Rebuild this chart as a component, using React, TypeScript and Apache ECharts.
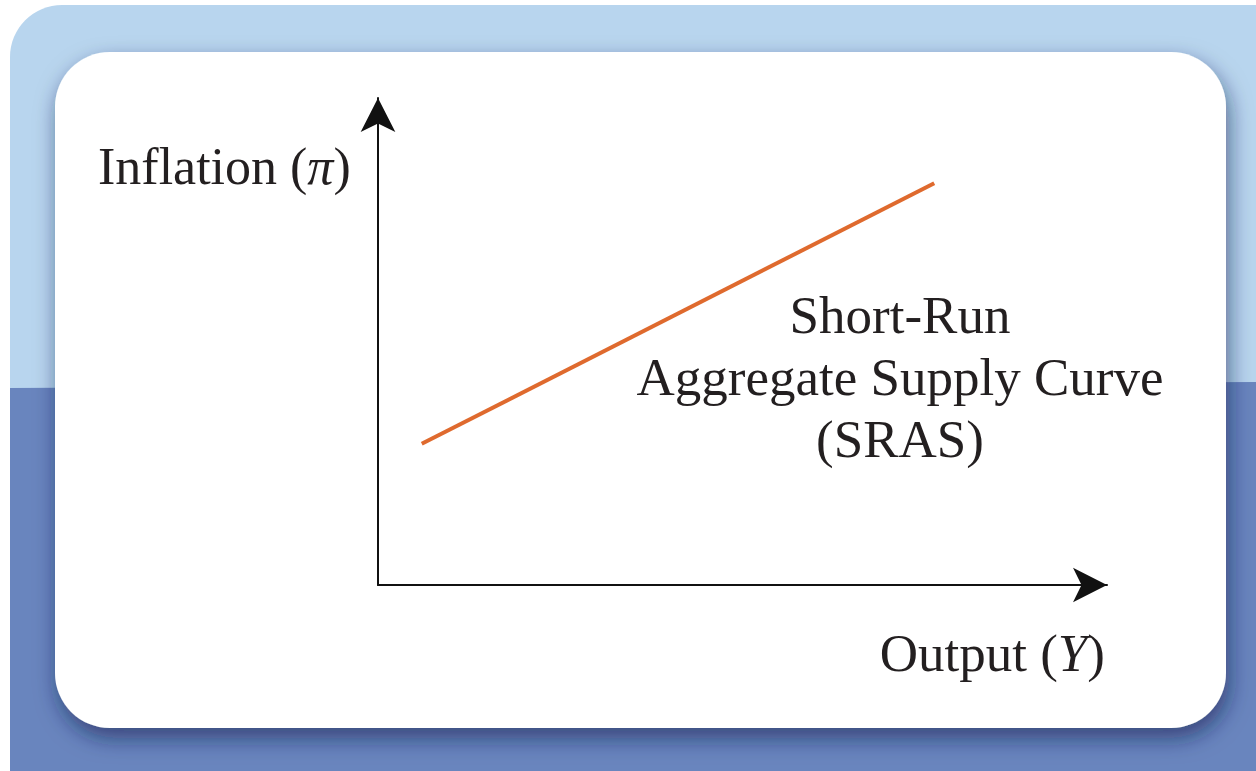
import React, { useEffect, useRef } from "react";
import * as echarts from "echarts";

// Data (arbitrary units: output on x, inflation on y)
const srasOutput: number[] = [6.0, 76.3];
const srasInflation: number[] = [29.0, 82.5];

const xAxisLabel = "Output";
const xAxisSymbol = "Y";
const yAxisLabel = "Inflation";
const yAxisSymbol = "π";
const curveLabelLines: string[] = ["Short-Run", "Aggregate Supply Curve", "(SRAS)"];

const W = 1256;
const H = 771;
const FONT = "'Liberation Serif', 'Times New Roman', serif";
const TEXT_COLOR = "#231f20";

export default function App() {
  const ref = useRef<HTMLDivElement | null>(null);

  useEffect(() => {
    document.body.style.margin = "0";
    if (!ref.current) return;
    const chart = echarts.init(ref.current, undefined, { renderer: "svg", width: W, height: H });

    const gridLeft = 378;
    const gridTop = 98;
    const gridRight = W - 1107;
    const gridBottom = H - 585;

    const richBase = { fontFamily: FONT, fontSize: 52, fill: TEXT_COLOR, color: TEXT_COLOR };

    chart.setOption({
      animation: false,
      backgroundColor: "#ffffff",
      graphic: [
        {
          type: "rect",
          z: -10,
          silent: true,
          shape: { x: 10, y: 5, width: 1300, height: 850, r: 52 },
          style: { fill: "#b8d5ee" },
        },
        {
          type: "polygon",
          z: -9,
          silent: true,
          shape: { points: [[10, 388], [W, 382], [W, H], [10, H]] },
          style: { fill: "#6985be" },
        },
        {
          type: "rect",
          z: -8,
          silent: true,
          shape: { x: 55, y: 52, width: 1171, height: 676, r: 55 },
          style: {
            fill: "#ffffff",
            shadowBlur: 22,
            shadowColor: "rgba(20,35,80,0.6)",
            shadowOffsetX: 3,
            shadowOffsetY: 10,
          },
        },
        {
          type: "text",
          z: 10,
          silent: true,
          style: {
            x: 98,
            y: 166,
            text: `{a|${yAxisLabel} (}{b|${yAxisSymbol}}{a|)}`,
            verticalAlign: "middle",
            align: "left",
            rich: {
              a: { ...richBase },
              b: { ...richBase, fontStyle: "italic" },
            },
          },
        },
        {
          type: "text",
          z: 10,
          silent: true,
          style: {
            x: 1105,
            y: 653,
            text: `{a|${xAxisLabel} (}{b|${xAxisSymbol}}{a|)}`,
            verticalAlign: "middle",
            align: "right",
            rich: {
              a: { ...richBase, fontSize: 53 },
              b: { ...richBase, fontSize: 53, fontStyle: "italic" },
            },
          },
        },
        {
          type: "text",
          z: 10,
          silent: true,
          style: {
            x: 900,
            y: 377,
            text: curveLabelLines.join("\n"),
            font: `53px ${FONT}`,
            fill: TEXT_COLOR,
            align: "center",
            verticalAlign: "middle",
            lineHeight: 62,
          },
        },
      ],
      grid: { left: gridLeft, top: gridTop, right: gridRight, bottom: gridBottom },
      xAxis: {
        type: "value",
        min: 0,
        max: 100,
        axisLine: {
          show: true,
          symbol: ["none", "arrow"],
          symbolSize: [26, 34],
          lineStyle: { color: "#111111", width: 2 },
        },
        axisTick: { show: false },
        axisLabel: { show: false },
        splitLine: { show: false },
      },
      yAxis: {
        type: "value",
        min: 0,
        max: 100,
        axisLine: {
          show: true,
          symbol: ["none", "arrow"],
          symbolSize: [26, 34],
          lineStyle: { color: "#111111", width: 2 },
        },
        axisTick: { show: false },
        axisLabel: { show: false },
        splitLine: { show: false },
      },
      series: [
        {
          type: "line",
          name: "SRAS",
          data: srasOutput.map((x, i) => [x, srasInflation[i]]),
          showSymbol: false,
          symbol: "none",
          lineStyle: { color: "#df6a2e", width: 4 },
          z: 5,
        },
      ],
    });

    return () => chart.dispose();
  }, []);

  return (
    <div
      ref={ref}
      style={{ position: "absolute", left: 0, top: 0, width: W, height: H }}
    />
  );
}
